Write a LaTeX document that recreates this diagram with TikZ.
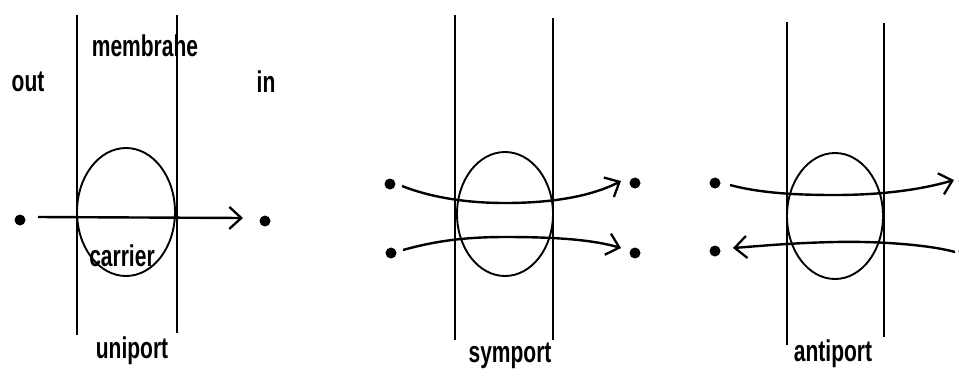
\documentclass[tikz,border=0pt]{standalone}
\usepackage{fontspec}
\setmainfont{Liberation Sans}
\usetikzlibrary{arrows.meta}
\begin{document}
\begin{tikzpicture}[x=1pt,y=-1pt,
  memb/.style={line width=2pt},
  carrierline/.style={line width=1.9pt},
  flow/.style={line width=2.4pt,-{Straight Barb[length=12pt,width=22pt,line width=2.3pt]}},
  dotnode/.style={circle,fill,inner sep=0pt,minimum size=11pt},
  lbl/.style={font=\fontsize{30}{32}\selectfont\bfseries,xscale=0.7,inner sep=0pt}]
\useasboundingbox (0,0) rectangle (959,376);
% ---------- uniport ----------
\coordinate (u1t) at (77,15); \coordinate (u1b) at (77,335);
\coordinate (u2t) at (177,15); \coordinate (u2b) at (177,333);
\draw[memb] (u1t) -- (u1b);
\draw[memb] (u2t) -- (u2b);
\draw[carrierline] (126,212) ellipse [x radius=49, y radius=64];
\node[lbl] (membr) at (145,46) {membrahe};
\node[lbl] (out) at (28,82) {out};
\node[lbl] (in) at (266,82) {in};
\node[lbl] (carrier) at (122,256) {carrier};
\node[lbl] (uni) at (132,351) {uniport};
\node[dotnode] (ud1) at (20,220) {};
\node[dotnode] (ud2) at (265,221) {};
\coordinate (us) at (38,217); \coordinate (ue) at (243,218);
\draw[flow] (us) -- (ue);
% ---------- symport ----------
\coordinate (s1t) at (455,15); \coordinate (s1b) at (455,340);
\coordinate (s2t) at (553,18); \coordinate (s2b) at (553,340);
\draw[memb] (s1t) -- (s1b);
\draw[memb] (s2t) -- (s2b);
\draw[carrierline] (505,214) ellipse [x radius=48, y radius=62];
\node[dotnode] (sd1) at (390,184) {};
\node[dotnode] (sd2) at (635,183) {};
\node[dotnode] (sd3) at (391,253) {};
\node[dotnode] (sd4) at (635,253) {};
\coordinate (sas) at (402,186); \coordinate (sae) at (621,181);
\coordinate (sbs) at (403,250); \coordinate (sbe) at (621,248);
\draw[flow] (sas) .. controls (430,197) and (465,203) .. (505,203) .. controls (550,203) and (590,197) .. (sae);
\draw[flow] (sbs) .. controls (435,241) and (465,237) .. (505,237) .. controls (550,237) and (590,239) .. (sbe);
\node[lbl] (sym) at (510,356) {symport};
% ---------- antiport ----------
\coordinate (a1t) at (787,22); \coordinate (a1b) at (787,345);
\coordinate (a2t) at (884,23); \coordinate (a2b) at (884,337);
\draw[memb] (a1t) -- (a1b);
\draw[memb] (a2t) -- (a2b);
\draw[carrierline] (835,216) ellipse [x radius=48, y radius=63];
\node[dotnode] (ad1) at (715,183) {};
\node[dotnode] (ad2) at (964,181) {};
\node[dotnode] (ad3) at (715,251) {};
\node[dotnode] (ad4) at (964,251) {};
\coordinate (aas) at (730,185); \coordinate (aae) at (954,180);
\coordinate (abs) at (955,252); \coordinate (abe) at (733,248);
\draw[flow] (aas) .. controls (760,193) and (795,195) .. (835,195) .. controls (880,195) and (920,190) .. (aae);
\draw[flow] (abs) .. controls (930,245) and (880,241) .. (835,242) .. controls (790,243) and (760,246) .. (abe);
\node[lbl] (anti) at (833,354) {antiport};
\end{tikzpicture}
\end{document}
